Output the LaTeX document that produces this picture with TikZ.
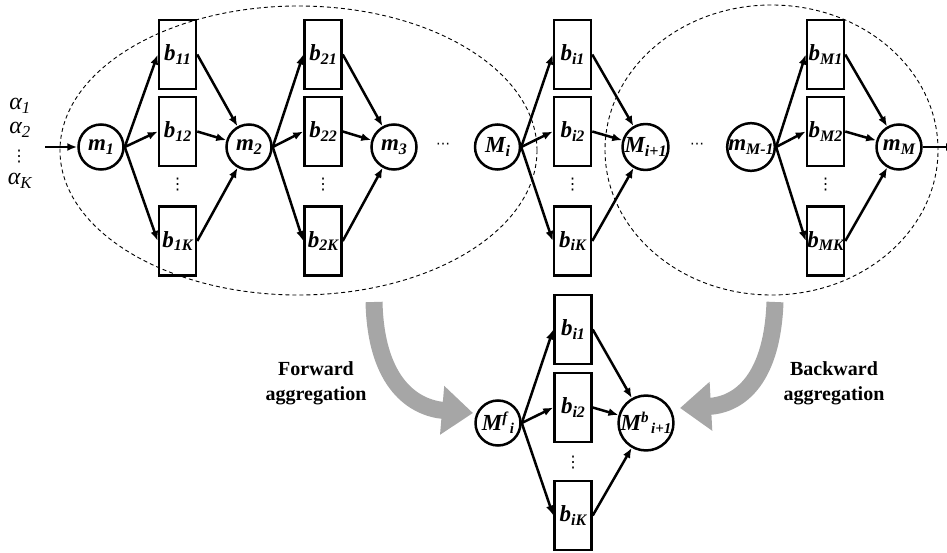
\documentclass[tikz,border=0pt]{standalone}
\usepackage{fontspec}
\setmainfont{Liberation Serif}
\newfontfamily\dejavu{DejaVu Sans}
\usetikzlibrary{arrows.meta}
\definecolor{arrgray}{RGB}{166,166,166}
\newcommand\nlab[2]{\textbf{\textit{#1\raisebox{-0.35ex}{\fontsize{16}{16}\selectfont #2}}}}
\newcommand\nlabsup[3]{\textbf{\textit{#1\raisebox{0.7ex}{\fontsize{15}{15}\selectfont #2}\raisebox{-0.35ex}{\fontsize{15}{15}\selectfont\,#3}}}}
\begin{document}
\begin{tikzpicture}[x=1pt,y=-1pt,
  circ/.style={circle,draw,line width=2.5pt,minimum size=45pt,inner sep=0pt,font=\fontsize{23}{23}\selectfont},
  bbox/.style={rectangle,draw,line width=2.5pt,minimum width=37pt,minimum height=69pt,inner sep=0pt,font=\fontsize{23}{23}\selectfont},
  edge/.style={line width=2.5pt,-{Latex[length=10pt,width=8pt]}},
  ell/.style={line width=0.9pt,dash pattern=on 4pt off 3pt},
  bigarr/.style={line width=17pt,draw=arrgray,-{Triangle[length=31pt,width=47pt,fill=arrgray]}},
  agg/.style={font=\fontsize{20}{25}\selectfont\bfseries,align=center},
  vd/.style={font=\dejavu\fontsize{16}{16}\selectfont,inner sep=0pt},
  hd/.style={font=\dejavu\fontsize{14}{14}\selectfont,inner sep=0pt},
  alab/.style={font=\fontsize{24}{24}\selectfont\itshape,inner sep=0pt}]
\useasboundingbox (0,0) rectangle (947,553);
\clip (0,0) rectangle (947,553);

% dashed ellipses
\draw[ell] (298.5,150.5) ellipse [x radius=238.5pt, y radius=144.5pt];
\draw[ell] (771.5,150) ellipse [x radius=166.5pt, y radius=145pt];

% alpha labels
\node[alab] (a1) at (20,106) {α\textsubscript{1}};
\node[alab] (a2) at (20,130) {α\textsubscript{2}};
\node[vd] (ad) at (19,157) {⋮};
\node[alab] (aK) at (20,181) {α\textsubscript{K}};

% circles top
\node[circ] (m1) at (101,147) {\nlab{m}{1}};
\node[circ] (m2) at (249,147) {\nlab{m}{2}};
\node[circ] (m3) at (394,147) {\nlab{m}{3}};
\node[circ] (Mi) at (497.5,147) {\nlab{M}{i}};
\node[circ] (Mi1) at (645.5,147) {\nlab{M}{i+1}};
\node[circ] (mM1) at (751,147) {\nlab{m}{M-1}};
\node[circ] (mM) at (899,147) {\nlab{m}{M}};

% horizontal dots
\node[hd] (hd1) at (443,146) {⋯};
\node[hd] (hd2) at (697,146) {⋯};

% boxes top
\foreach \c/\x/\s in {1/177.5/1, 2/323/2, i/572.5/i, M/825.5/M}{
  \node[bbox] (b\c-1) at (\x,54.5) {\nlab{b}{\s1}};
  \node[bbox] (b\c-2) at (\x,131.5) {\nlab{b}{\s2}};
  \node[vd] (bd\c) at (\x,185) {⋮};
  \node[bbox] (b\c-3) at (\x,241) {\nlab{b}{\s K}};
}

% edges top
\foreach \l/\c/\r in {m1/1/m2, m2/2/m3, Mi/i/Mi1, mM1/M/mM}{
  \foreach \k in {1,2,3}{
    \draw[edge] (\l.east) -- (b\c-\k.west);
    \draw[edge] (b\c-\k.east) -- (\r);
  }
}

% input / output
\coordinate (in) at (45,147);
\coordinate (out) at (956,147);
\draw[edge] (in) -- (m1);
\draw[edge] (mM) -- (out);

% bottom part
\node[circ] (Mf) at (498,423) {\nlabsup{M}{f}{i}};
\node[circ] (Mb) at (646,423) {\nlabsup{M}{b}{i+1}};
\node[bbox] (bb-1) at (573,329.5) {\nlab{b}{i1}};
\node[bbox] (bb-2) at (573,407.5) {\nlab{b}{i2}};
\node[vd] (bbd) at (573,463) {⋮};
\node[bbox] (bb-3) at (573,515.5) {\nlab{b}{iK}};
\foreach \k in {1,2,3}{
  \draw[edge] (Mf.east) -- (bb-\k.west);
  \draw[edge] (bb-\k.east) -- (Mb);
}

% aggregation arrows
\coordinate (fs) at (374,302);
\coordinate (fe) at (473,413);
\coordinate (bs) at (775,302);
\coordinate (be) at (680,408);
\draw[bigarr] (fs) .. controls (376,385) and (415,408) .. (fe);
\draw[bigarr] (bs) .. controls (772,385) and (735,405) .. (be);

\node[agg] (fwd) at (316,383) {Forward\\aggregation};
\node[agg] (bwd) at (834,383) {Backward\\aggregation};
\end{tikzpicture}
\end{document}
